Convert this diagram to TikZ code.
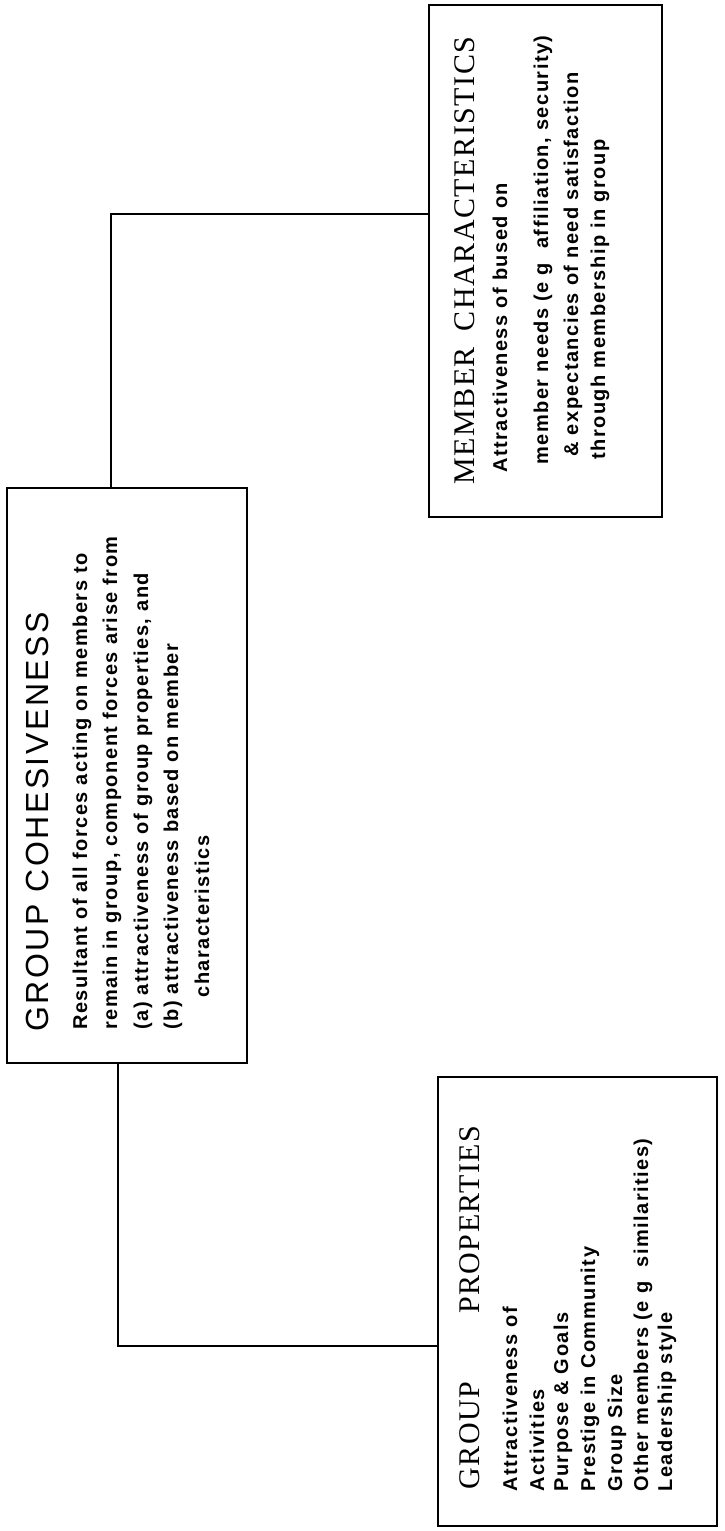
\documentclass[tikz,border=0pt]{standalone}
\usepackage{fontspec}
\setmainfont{Liberation Sans}
\newfontfamily\bodyfont[LetterSpace=7.5]{Liberation Sans}
\newfontfamily\capsfont[LetterSpace=8]{Liberation Sans}
\newfontfamily\serifcaps[LetterSpace=5]{Liberation Serif}

\begin{document}
\begin{tikzpicture}[x=0.5pt,y=-0.5pt,
    box/.style={draw,line width=1.1pt,inner sep=0pt},
    conn/.style={line width=1pt},
    txt/.style={rotate=90,anchor=west,inner sep=0pt,font=\bodyfont\bfseries\fontsize{10}{12}\selectfont},
    head/.style={txt,font=\serifcaps\fontsize{15}{17}\selectfont}]
        \useasboundingbox (0,0) rectangle (724,1531);

        % boxes
        \node[box,minimum width=116.5pt,minimum height=256pt] (member) at (545.5,261) {};
        \node[box,minimum width=120pt,minimum height=287.5pt] (coh) at (127,775.5) {};
        \node[box,minimum width=139.5pt,minimum height=224.5pt] (prop) at (577.5,1301.5) {};

        % connectors
        \coordinate (upper) at (111,214);
        \coordinate (lower) at (118,1346);
        \draw[conn] (member.west |- upper) -| (coh.north -| upper);
        \draw[conn] (coh.south -| lower) |- (prop.west |- lower);

        % group cohesiveness
        \node[txt,font=\capsfont\fontsize{16}{18}\selectfont] (cohT) at (37,1032) {GROUP COHESIVENESS};
        \foreach \x/\t [count=\i] in {82/Resultant of all forces acting on members to,
            112/{remain in group, component forces arise from},
            143/{(a) attractiveness of group properties, and},
            173/(b) attractiveness based on member}
          \node[txt] (coh\i) at (\x,1030) {\t};
        \node[txt] (coh5) at (202,998) {characteristics};

        % member characteristics
        \node[head] (memT) at (465,485) {MEMBER\hspace{8pt}CHARACTERISTICS};
        \node[txt] (mem1) at (500,473) {Attractiveness of bused on};
        \node[txt] (mem2) at (543,465) {member needs (e g\ \ affiliation, security)};
        \node[txt] (mem3) at (573,457) {\& expectancies of need satisfaction};
        \node[txt] (mem4) at (600,460) {through membership in group};

        % group properties
        \node[head] (propT) at (470,1490) {GROUP\hspace{34pt}PROPERTIES};
        \foreach \x/\t [count=\i] in {510/Attractiveness of, 537/Activities,
            563/Purpose \& Goals, 590/Prestige in Community, 617/Group Size,
            643/Other members (e g\ \ similarities), 667/Leadership style}
          \node[txt] (prop\i) at (\x,1492) {\t};
\end{tikzpicture}
\end{document}
